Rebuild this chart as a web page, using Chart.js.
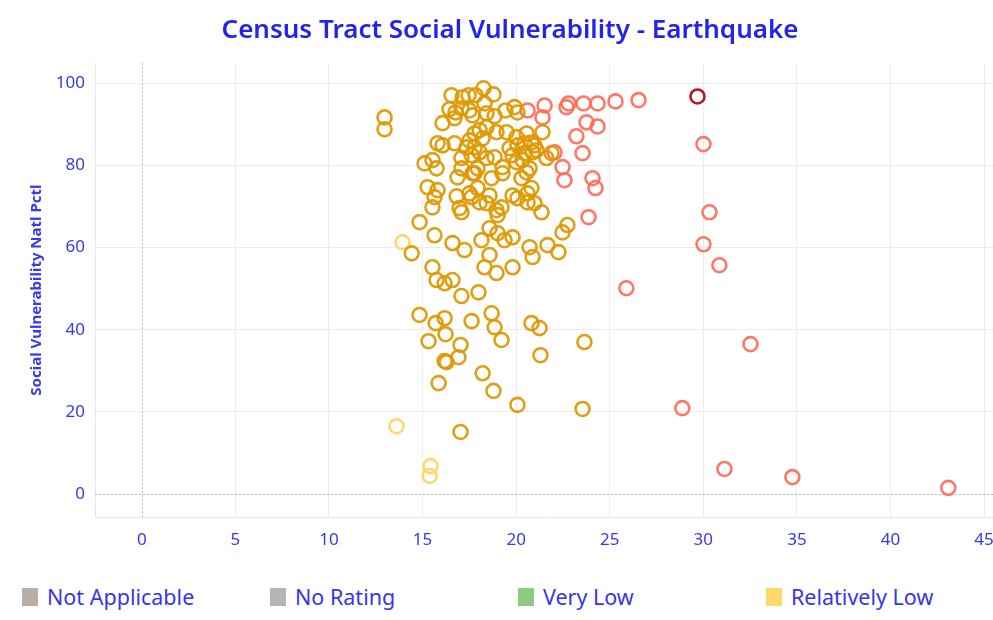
<!DOCTYPE html>
<html>
<head>
<meta charset="utf-8">
<script src="https://cdn.jsdelivr.net/npm/chart.js@4.4.1/dist/chart.umd.min.js"></script>
<style>
  html, body { margin: 0; padding: 0; background: #ffffff; }
  #wrap { position: relative; width: 993px; height: 620px; overflow: hidden; background: #fff; }
  #c { position: absolute; left: 0; top: 0; }
  .lg { position: absolute; top: 585px; font-family: "Noto Sans", sans-serif; font-size: 21.5px; color: #3535f2; line-height: 24px; white-space: nowrap; }
  .lg .box { position: absolute; left: 0; top: 3px; width: 16px; height: 18px; }
  .lg .txt { position: absolute; left: 25px; top: 0; }
</style>
</head>
<body>
<div id="wrap">
  <canvas id="c" width="1003" height="565"></canvas>
  <div id="legend"></div>
</div>
<script>
// ---- Data (x = horizontal value, y = Social Vulnerability Natl Pctl) ----
const chartTitle = "Census Tract Social Vulnerability - Earthquake";
const yAxisTitle = "Social Vulnerability Natl Pctl";
const xTickValues = [0, 5, 10, 15, 20, 25, 30, 35, 40, 45];
const yTickValues = [0, 20, 40, 60, 80, 100];

const legendLabels = ["Not Applicable", "No Rating", "Very Low", "Relatively Low"];
const legendColors = ["#b9ada8", "#b3b6b7", "#8dcc7e", "#ffd966"];

// Relatively Moderate (orange)
const moderateX = [12.97,12.97,16.55,17.14,17.46,17.83,18.26,18.79,18.31,16.44,16.76,17.08,17.51,17.67,18.42,18.85,16.07,16.71,19.43,19.91,20.07,18.42,
  18.95,19.49,21.41,20.56,20.02,17.78,18.05,18.21,17.51,15.80,16.07,16.71,17.35,17.78,17.62,18.05,17.08,18.42,18.85,19.65,20.07,20.45,20.82,19.81,20.45,20.88,20.34,
  15.11,15.53,15.75,17.08,17.94,17.78,19.27,20.02,21.62,21.89,20.98,21.09,20.72,
  16.87,17.67,18.69,19.27,20.29,20.56,15.27,15.80,15.64,15.53,16.82,16.98,17.08,17.51,17.62,17.94,18.05,18.58,18.42,18.95,19.22,19.01,19.81,20.07,20.61,20.82,20.61,20.98,21.36,
  14.84,15.64,14.42,15.53,16.60,17.24,18.15,18.58,19.01,19.38,19.81,18.58,20.72,20.88,21.68,22.26,22.48,22.74,18.31,18.95,19.81,
  15.75,16.18,16.60,17.08,17.99,
  14.84,15.70,16.18,17.62,18.69,18.85,20.82,21.25,15.32,16.23,17.03,16.92,16.18,16.28,19.22,21.30,23.65,
  18.21,15.86,18.79,20.07,23.55,17.03];
const moderateY = [91.7,88.8,97.1,96.6,97.1,97.1,98.8,97.3,95.1,93.7,92.9,93.9,93.4,92.2,92.7,92.0,90.3,91.5,93.4,94.2,92.9,89.3,
  88.1,88.1,88.1,87.8,86.9,87.8,88.6,86.6,86.1,85.4,84.9,85.4,84.4,84.4,82.5,83.2,81.8,81.8,82.0,84.2,84.9,85.4,85.6,82.5,83.0,83.2,81.3,
  80.5,81.3,79.3,79.3,79.3,78.1,79.6,80.8,81.8,83.0,84.9,83.7,79.3,
  77.1,78.1,76.9,78.1,76.9,78.3,74.7,74.0,72.3,69.8,72.5,69.6,68.6,73.2,72.3,74.5,71.0,72.7,70.8,69.1,69.8,67.9,72.7,72.0,73.2,74.5,71.0,70.8,68.6,
  66.2,63.0,58.6,55.2,61.1,59.4,61.8,64.7,63.5,61.8,62.5,58.2,60.1,57.7,60.6,58.9,63.7,65.5,55.2,53.8,55.2,
  52.1,51.3,52.1,48.2,49.1,
  43.6,41.6,42.8,42.1,44.0,40.6,41.6,40.4,37.2,38.9,36.3,33.3,32.4,32.1,37.5,33.8,37.0,
  29.4,27.0,25.1,21.7,20.7,15.1];

// Relatively High (salmon)
const highX = [21.52,22.80,22.69,23.60,24.35,25.31,26.54,21.41,20.61,23.76,24.35,23.22,23.55,30.01,22.48,22.58,24.08,24.24,30.33,23.87,30.01,30.86,25.89,32.52,28.88,31.13,34.76,43.09,22.05];
const highY = [94.6,95.1,94.2,95.1,95.1,95.6,95.9,91.7,93.4,90.5,89.5,87.1,83.0,85.2,79.6,76.4,76.9,74.5,68.6,67.4,60.8,55.7,50.1,36.5,20.9,6.1,4.1,1.5,83.2];

// Very High (dark red)
const veryHighX = [29.69];
const veryHighY = [96.8];

// Relatively Low (light yellow)
const lowX = [13.93, 13.61, 15.43, 15.38];
const lowY = [61.3, 16.5, 6.8, 4.4];

function pts(xs, ys) { return xs.map((v, i) => ({ x: v, y: ys[i] })); }

const blue = "#3838f4";
const fontFam = "'Noto Sans', sans-serif";

function ds(label, xs, ys, color) {
  return {
    label: label,
    data: pts(xs, ys),
    borderColor: color,
    backgroundColor: "rgba(0,0,0,0)",
    pointRadius: 7,
    pointBorderWidth: 2.6,
    pointHoverRadius: 7,
    showLine: false
  };
}

const zeroLines = {
  id: "zeroLines",
  beforeDatasetsDraw(chart) {
    const { ctx, chartArea: a, scales: { x, y } } = chart;
    ctx.save();
    ctx.strokeStyle = "#b5b5b5";
    ctx.lineWidth = 1;
    ctx.setLineDash([2, 2]);
    const x0 = Math.round(x.getPixelForValue(0)) + 0.5;
    ctx.beginPath(); ctx.moveTo(x0, a.top); ctx.lineTo(x0, a.bottom); ctx.stroke();
    const y0 = Math.round(y.getPixelForValue(0)) + 0.5;
    ctx.beginPath(); ctx.moveTo(a.left, y0); ctx.lineTo(a.right, y0); ctx.stroke();
    ctx.restore();
  }
};

new Chart(document.getElementById("c"), {
  type: "scatter",
  data: {
    datasets: [
      ds("Relatively Moderate", moderateX, moderateY, "rgba(223,153,0,0.93)"),
      ds("Relatively High", highX, highY, "rgba(255,107,88,0.92)"),
      ds("Very High", veryHighX, veryHighY, "#b3182d"),
      ds("Relatively Low", lowX, lowY, "rgba(255,214,100,0.95)")
    ]
  },
  options: {
    responsive: false,
    animation: false,
    layout: { padding: { left: 17, right: 0, top: 0, bottom: 12 } },
    plugins: {
      legend: { display: false },
      tooltip: { enabled: false },
      title: {
        display: true,
        text: chartTitle,
        color: "#2323f0",
        font: { family: fontFam, size: 26, weight: 600 },
        padding: { top: 15, bottom: 17 }
      }
    },
    scales: {
      x: {
        type: "linear",
        min: -2.5,
        max: 45.5,
        afterBuildTicks(scale) { scale.ticks = xTickValues.map(v => ({ value: v })); },
        afterFit(scale) { scale.paddingLeft = 0; scale.paddingRight = 0; scale.height = 36; },
        ticks: { color: blue, font: { family: fontFam, size: 17 }, padding: 13 },
        grid: {
          color: ctx => (ctx.tick && ctx.tick.value === 0) ? "rgba(0,0,0,0)" : "#ececec",
          drawTicks: false
        },
        border: { display: true, color: "#e6e6e6" }
      },
      y: {
        type: "linear",
        min: -5.6,
        max: 104.9,
        afterBuildTicks(scale) { scale.ticks = yTickValues.map(v => ({ value: v })); },
        afterFit(scale) { scale.width = 78; scale.paddingTop = 0; scale.paddingBottom = 0; },
        ticks: { color: blue, font: { family: fontFam, size: 17 }, padding: 10 },
        grid: {
          color: ctx => (ctx.tick && ctx.tick.value === 0) ? "rgba(0,0,0,0)" : "#ececec",
          drawTicks: false
        },
        border: { display: true, color: "#e6e6e6" },
        title: {
          display: true,
          text: yAxisTitle,
          color: blue,
          font: { family: fontFam, size: 15, weight: "bold" },
          padding: { top: 11, bottom: 12 }
        }
      }
    }
  },
  plugins: [zeroLines]
});

// HTML legend
const legendEl = document.getElementById("legend");
const legendLefts = [22, 270, 518, 766];
legendLabels.forEach((lab, i) => {
  const d = document.createElement("div");
  d.className = "lg";
  d.style.left = legendLefts[i] + "px";
  d.innerHTML = '<span class="box" style="background:' + legendColors[i] + '"></span><span class="txt"></span>';
  d.querySelector(".txt").textContent = lab;
  legendEl.appendChild(d);
});
</script>
</body>
</html>
